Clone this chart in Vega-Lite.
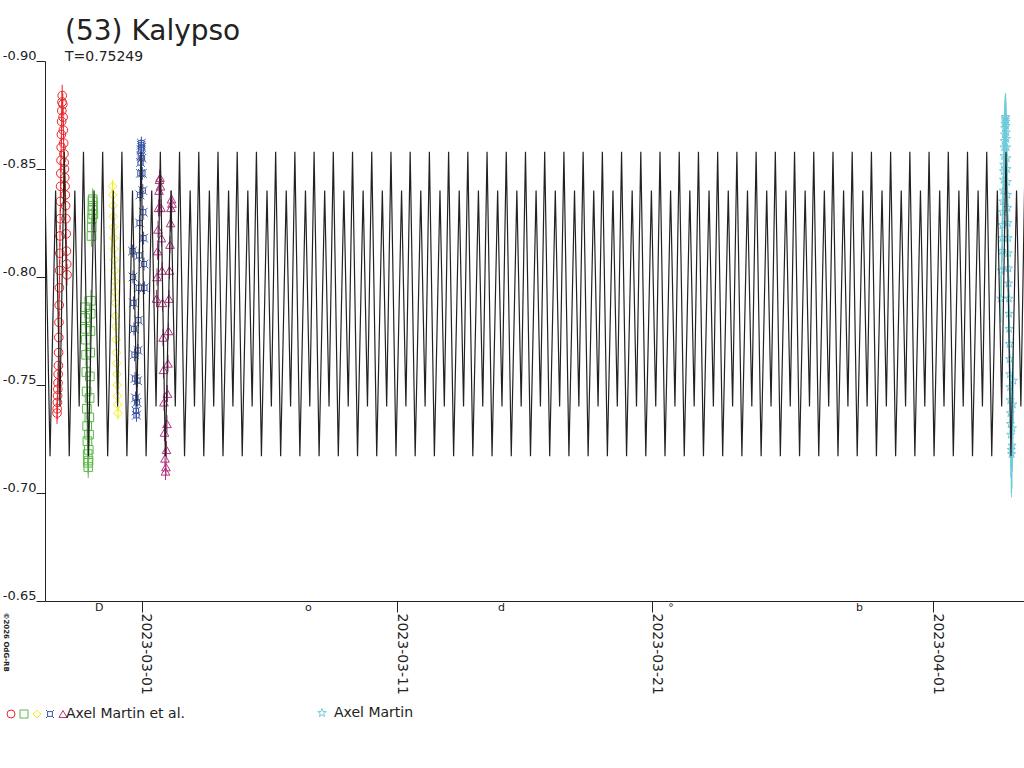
{
  "$schema": "https://vega.github.io/schema/vega-lite/v6.json",
  "width": 979,
  "height": 540,
  "autosize": "none",
  "padding": {"left": 45, "top": 61, "right": 0, "bottom": 167},
  "background": "white",
  "title": {
    "text": "(53) Kalypso",
    "subtitle": "T=0.75249",
    "anchor": "start",
    "frame": "group",
    "dx": 20,
    "offset": -15,
    "font": "DejaVu Sans",
    "subtitleFont": "DejaVu Sans",
    "fontSize": 28,
    "subtitleFontSize": 14,
    "fontWeight": "normal",
    "color": "#222",
    "subtitleColor": "#222",
    "subtitlePadding": 4
  },
  "datasets": {
    "model": [
      {"mjd": 60000.214, "mag": -0.840},
      {"mjd": 60000.411, "mag": -0.717}, {"mjd": 60000.630, "mag": -0.840}, {"mjd": 60000.800, "mag": -0.740},
      {"mjd": 60000.967, "mag": -0.858}, {"mjd": 60001.163, "mag": -0.717}, {"mjd": 60001.382, "mag": -0.840}, {"mjd": 60001.552, "mag": -0.740},
      {"mjd": 60001.720, "mag": -0.858}, {"mjd": 60001.916, "mag": -0.717}, {"mjd": 60002.135, "mag": -0.840}, {"mjd": 60002.305, "mag": -0.740},
      {"mjd": 60002.472, "mag": -0.858}, {"mjd": 60002.668, "mag": -0.717}, {"mjd": 60002.887, "mag": -0.840}, {"mjd": 60003.057, "mag": -0.740},
      {"mjd": 60003.225, "mag": -0.858}, {"mjd": 60003.421, "mag": -0.717}, {"mjd": 60003.640, "mag": -0.840}, {"mjd": 60003.810, "mag": -0.740},
      {"mjd": 60003.977, "mag": -0.858}, {"mjd": 60004.173, "mag": -0.717}, {"mjd": 60004.392, "mag": -0.840}, {"mjd": 60004.562, "mag": -0.740},
      {"mjd": 60004.730, "mag": -0.858}, {"mjd": 60004.926, "mag": -0.717}, {"mjd": 60005.145, "mag": -0.840}, {"mjd": 60005.315, "mag": -0.740},
      {"mjd": 60005.482, "mag": -0.858}, {"mjd": 60005.678, "mag": -0.717}, {"mjd": 60005.897, "mag": -0.840}, {"mjd": 60006.067, "mag": -0.740},
      {"mjd": 60006.235, "mag": -0.858}, {"mjd": 60006.431, "mag": -0.717}, {"mjd": 60006.650, "mag": -0.840}, {"mjd": 60006.820, "mag": -0.740},
      {"mjd": 60006.987, "mag": -0.858}, {"mjd": 60007.183, "mag": -0.717}, {"mjd": 60007.402, "mag": -0.840}, {"mjd": 60007.572, "mag": -0.740},
      {"mjd": 60007.740, "mag": -0.858}, {"mjd": 60007.936, "mag": -0.717}, {"mjd": 60008.155, "mag": -0.840}, {"mjd": 60008.325, "mag": -0.740},
      {"mjd": 60008.492, "mag": -0.858}, {"mjd": 60008.688, "mag": -0.717}, {"mjd": 60008.907, "mag": -0.840}, {"mjd": 60009.077, "mag": -0.740},
      {"mjd": 60009.245, "mag": -0.858}, {"mjd": 60009.441, "mag": -0.717}, {"mjd": 60009.660, "mag": -0.840}, {"mjd": 60009.830, "mag": -0.740},
      {"mjd": 60009.997, "mag": -0.858}, {"mjd": 60010.193, "mag": -0.717}, {"mjd": 60010.412, "mag": -0.840}, {"mjd": 60010.582, "mag": -0.740},
      {"mjd": 60010.750, "mag": -0.858}, {"mjd": 60010.946, "mag": -0.717}, {"mjd": 60011.165, "mag": -0.840}, {"mjd": 60011.335, "mag": -0.740},
      {"mjd": 60011.502, "mag": -0.858}, {"mjd": 60011.698, "mag": -0.717}, {"mjd": 60011.917, "mag": -0.840}, {"mjd": 60012.087, "mag": -0.740},
      {"mjd": 60012.255, "mag": -0.858}, {"mjd": 60012.451, "mag": -0.717}, {"mjd": 60012.670, "mag": -0.840}, {"mjd": 60012.840, "mag": -0.740},
      {"mjd": 60013.007, "mag": -0.858}, {"mjd": 60013.203, "mag": -0.717}, {"mjd": 60013.422, "mag": -0.840}, {"mjd": 60013.592, "mag": -0.740},
      {"mjd": 60013.760, "mag": -0.858}, {"mjd": 60013.956, "mag": -0.717}, {"mjd": 60014.175, "mag": -0.840}, {"mjd": 60014.345, "mag": -0.740},
      {"mjd": 60014.512, "mag": -0.858}, {"mjd": 60014.708, "mag": -0.717}, {"mjd": 60014.927, "mag": -0.840}, {"mjd": 60015.097, "mag": -0.740},
      {"mjd": 60015.264, "mag": -0.858}, {"mjd": 60015.460, "mag": -0.717}, {"mjd": 60015.679, "mag": -0.840}, {"mjd": 60015.849, "mag": -0.740},
      {"mjd": 60016.017, "mag": -0.858}, {"mjd": 60016.213, "mag": -0.717}, {"mjd": 60016.432, "mag": -0.840}, {"mjd": 60016.602, "mag": -0.740},
      {"mjd": 60016.769, "mag": -0.858}, {"mjd": 60016.965, "mag": -0.717}, {"mjd": 60017.184, "mag": -0.840}, {"mjd": 60017.354, "mag": -0.740},
      {"mjd": 60017.522, "mag": -0.858}, {"mjd": 60017.718, "mag": -0.717}, {"mjd": 60017.937, "mag": -0.840}, {"mjd": 60018.107, "mag": -0.740},
      {"mjd": 60018.274, "mag": -0.858}, {"mjd": 60018.470, "mag": -0.717}, {"mjd": 60018.689, "mag": -0.840}, {"mjd": 60018.859, "mag": -0.740},
      {"mjd": 60019.027, "mag": -0.858}, {"mjd": 60019.223, "mag": -0.717}, {"mjd": 60019.442, "mag": -0.840}, {"mjd": 60019.612, "mag": -0.740},
      {"mjd": 60019.779, "mag": -0.858}, {"mjd": 60019.975, "mag": -0.717}, {"mjd": 60020.194, "mag": -0.840}, {"mjd": 60020.364, "mag": -0.740},
      {"mjd": 60020.532, "mag": -0.858}, {"mjd": 60020.728, "mag": -0.717}, {"mjd": 60020.947, "mag": -0.840}, {"mjd": 60021.117, "mag": -0.740},
      {"mjd": 60021.284, "mag": -0.858}, {"mjd": 60021.480, "mag": -0.717}, {"mjd": 60021.699, "mag": -0.840}, {"mjd": 60021.869, "mag": -0.740},
      {"mjd": 60022.037, "mag": -0.858}, {"mjd": 60022.233, "mag": -0.717}, {"mjd": 60022.452, "mag": -0.840}, {"mjd": 60022.622, "mag": -0.740},
      {"mjd": 60022.789, "mag": -0.858}, {"mjd": 60022.985, "mag": -0.717}, {"mjd": 60023.204, "mag": -0.840}, {"mjd": 60023.374, "mag": -0.740},
      {"mjd": 60023.542, "mag": -0.858}, {"mjd": 60023.738, "mag": -0.717}, {"mjd": 60023.957, "mag": -0.840}, {"mjd": 60024.127, "mag": -0.740},
      {"mjd": 60024.294, "mag": -0.858}, {"mjd": 60024.490, "mag": -0.717}, {"mjd": 60024.709, "mag": -0.840}, {"mjd": 60024.879, "mag": -0.740},
      {"mjd": 60025.047, "mag": -0.858}, {"mjd": 60025.243, "mag": -0.717}, {"mjd": 60025.462, "mag": -0.840}, {"mjd": 60025.632, "mag": -0.740},
      {"mjd": 60025.799, "mag": -0.858}, {"mjd": 60025.995, "mag": -0.717}, {"mjd": 60026.214, "mag": -0.840}, {"mjd": 60026.384, "mag": -0.740},
      {"mjd": 60026.552, "mag": -0.858}, {"mjd": 60026.748, "mag": -0.717}, {"mjd": 60026.967, "mag": -0.840}, {"mjd": 60027.137, "mag": -0.740},
      {"mjd": 60027.304, "mag": -0.858}, {"mjd": 60027.500, "mag": -0.717}, {"mjd": 60027.719, "mag": -0.840}, {"mjd": 60027.889, "mag": -0.740},
      {"mjd": 60028.057, "mag": -0.858}, {"mjd": 60028.253, "mag": -0.717}, {"mjd": 60028.472, "mag": -0.840}, {"mjd": 60028.642, "mag": -0.740},
      {"mjd": 60028.809, "mag": -0.858}, {"mjd": 60029.005, "mag": -0.717}, {"mjd": 60029.224, "mag": -0.840}, {"mjd": 60029.394, "mag": -0.740},
      {"mjd": 60029.562, "mag": -0.858}, {"mjd": 60029.758, "mag": -0.717}, {"mjd": 60029.977, "mag": -0.840}, {"mjd": 60030.147, "mag": -0.740},
      {"mjd": 60030.314, "mag": -0.858}, {"mjd": 60030.510, "mag": -0.717}, {"mjd": 60030.729, "mag": -0.840}, {"mjd": 60030.899, "mag": -0.740},
      {"mjd": 60031.067, "mag": -0.858}, {"mjd": 60031.263, "mag": -0.717}, {"mjd": 60031.482, "mag": -0.840}, {"mjd": 60031.652, "mag": -0.740},
      {"mjd": 60031.819, "mag": -0.858}, {"mjd": 60032.015, "mag": -0.717}, {"mjd": 60032.234, "mag": -0.840}, {"mjd": 60032.404, "mag": -0.740},
      {"mjd": 60032.572, "mag": -0.858}, {"mjd": 60032.768, "mag": -0.717}, {"mjd": 60032.987, "mag": -0.840}, {"mjd": 60033.157, "mag": -0.740},
      {"mjd": 60033.324, "mag": -0.858}, {"mjd": 60033.520, "mag": -0.717}, {"mjd": 60033.739, "mag": -0.840}, {"mjd": 60033.909, "mag": -0.740},
      {"mjd": 60034.077, "mag": -0.858}, {"mjd": 60034.273, "mag": -0.717}, {"mjd": 60034.492, "mag": -0.840}, {"mjd": 60034.662, "mag": -0.740},
      {"mjd": 60034.829, "mag": -0.858}, {"mjd": 60035.025, "mag": -0.717}, {"mjd": 60035.244, "mag": -0.840}, {"mjd": 60035.414, "mag": -0.740},
      {"mjd": 60035.582, "mag": -0.858}, {"mjd": 60035.778, "mag": -0.717}, {"mjd": 60035.997, "mag": -0.840}, {"mjd": 60036.167, "mag": -0.740},
      {"mjd": 60036.334, "mag": -0.858}, {"mjd": 60036.530, "mag": -0.717}, {"mjd": 60036.749, "mag": -0.840}, {"mjd": 60036.919, "mag": -0.740},
      {"mjd": 60037.087, "mag": -0.858}, {"mjd": 60037.283, "mag": -0.717}, {"mjd": 60037.502, "mag": -0.840}, {"mjd": 60037.672, "mag": -0.740},
      {"mjd": 60037.839, "mag": -0.858}, {"mjd": 60038.035, "mag": -0.717}, {"mjd": 60038.254, "mag": -0.840}, {"mjd": 60038.424, "mag": -0.740},
      {"mjd": 60038.592, "mag": -0.858}
    ],
    "obs": [
      {"sess": "1", "mjd": 60000.684, "mag": -0.737, "err": 0.005},
      {"sess": "1", "mjd": 60000.692, "mag": -0.739, "err": 0.005},
      {"sess": "1", "mjd": 60000.700, "mag": -0.742, "err": 0.005},
      {"sess": "1", "mjd": 60000.707, "mag": -0.745, "err": 0.005},
      {"sess": "1", "mjd": 60000.715, "mag": -0.748, "err": 0.005},
      {"sess": "1", "mjd": 60000.723, "mag": -0.751, "err": 0.005},
      {"sess": "1", "mjd": 60000.731, "mag": -0.755, "err": 0.005},
      {"sess": "1", "mjd": 60000.739, "mag": -0.759, "err": 0.005},
      {"sess": "1", "mjd": 60000.747, "mag": -0.765, "err": 0.005},
      {"sess": "1", "mjd": 60000.754, "mag": -0.772, "err": 0.005},
      {"sess": "1", "mjd": 60000.762, "mag": -0.779, "err": 0.005},
      {"sess": "1", "mjd": 60000.770, "mag": -0.787, "err": 0.005},
      {"sess": "1", "mjd": 60000.778, "mag": -0.795, "err": 0.005},
      {"sess": "1", "mjd": 60000.786, "mag": -0.803, "err": 0.005},
      {"sess": "1", "mjd": 60000.794, "mag": -0.811, "err": 0.005},
      {"sess": "1", "mjd": 60000.801, "mag": -0.819, "err": 0.005},
      {"sess": "1", "mjd": 60000.809, "mag": -0.827, "err": 0.005},
      {"sess": "1", "mjd": 60000.817, "mag": -0.835, "err": 0.005},
      {"sess": "1", "mjd": 60000.825, "mag": -0.842, "err": 0.005},
      {"sess": "1", "mjd": 60000.833, "mag": -0.848, "err": 0.005},
      {"sess": "1", "mjd": 60000.841, "mag": -0.854, "err": 0.005},
      {"sess": "1", "mjd": 60000.848, "mag": -0.860, "err": 0.005},
      {"sess": "1", "mjd": 60000.856, "mag": -0.866, "err": 0.005},
      {"sess": "1", "mjd": 60000.864, "mag": -0.872, "err": 0.005},
      {"sess": "1", "mjd": 60000.872, "mag": -0.877, "err": 0.005},
      {"sess": "1", "mjd": 60000.880, "mag": -0.881, "err": 0.005},
      {"sess": "1", "mjd": 60000.888, "mag": -0.884, "err": 0.005},
      {"sess": "1", "mjd": 60000.911, "mag": -0.880, "err": 0.005},
      {"sess": "1", "mjd": 60000.922, "mag": -0.874, "err": 0.005},
      {"sess": "1", "mjd": 60000.933, "mag": -0.868, "err": 0.005},
      {"sess": "1", "mjd": 60000.944, "mag": -0.862, "err": 0.005},
      {"sess": "1", "mjd": 60000.955, "mag": -0.857, "err": 0.005},
      {"sess": "1", "mjd": 60000.966, "mag": -0.853, "err": 0.005},
      {"sess": "1", "mjd": 60000.977, "mag": -0.850, "err": 0.005},
      {"sess": "1", "mjd": 60000.988, "mag": -0.846, "err": 0.005},
      {"sess": "1", "mjd": 60000.999, "mag": -0.842, "err": 0.005},
      {"sess": "1", "mjd": 60001.010, "mag": -0.838, "err": 0.005},
      {"sess": "1", "mjd": 60001.021, "mag": -0.833, "err": 0.005},
      {"sess": "1", "mjd": 60001.032, "mag": -0.827, "err": 0.005},
      {"sess": "1", "mjd": 60001.043, "mag": -0.820, "err": 0.005},
      {"sess": "1", "mjd": 60001.054, "mag": -0.812, "err": 0.005},
      {"sess": "1", "mjd": 60001.065, "mag": -0.806, "err": 0.005},
      {"sess": "1", "mjd": 60001.076, "mag": -0.801, "err": 0.005},
      {"sess": "2", "mjd": 60001.780, "mag": -0.786, "err": 0.005},
      {"sess": "2", "mjd": 60001.791, "mag": -0.781, "err": 0.005},
      {"sess": "2", "mjd": 60001.801, "mag": -0.776, "err": 0.005},
      {"sess": "2", "mjd": 60001.812, "mag": -0.771, "err": 0.005},
      {"sess": "2", "mjd": 60001.822, "mag": -0.764, "err": 0.005},
      {"sess": "2", "mjd": 60001.833, "mag": -0.756, "err": 0.005},
      {"sess": "2", "mjd": 60001.844, "mag": -0.747, "err": 0.005},
      {"sess": "2", "mjd": 60001.854, "mag": -0.739, "err": 0.005},
      {"sess": "2", "mjd": 60001.865, "mag": -0.731, "err": 0.005},
      {"sess": "2", "mjd": 60001.875, "mag": -0.724, "err": 0.005},
      {"sess": "2", "mjd": 60001.886, "mag": -0.718, "err": 0.005},
      {"sess": "2", "mjd": 60001.897, "mag": -0.714, "err": 0.005},
      {"sess": "2", "mjd": 60001.907, "mag": -0.712, "err": 0.005},
      {"sess": "2", "mjd": 60001.918, "mag": -0.715, "err": 0.005},
      {"sess": "2", "mjd": 60001.928, "mag": -0.720, "err": 0.005},
      {"sess": "2", "mjd": 60001.939, "mag": -0.727, "err": 0.005},
      {"sess": "2", "mjd": 60001.950, "mag": -0.735, "err": 0.005},
      {"sess": "2", "mjd": 60001.960, "mag": -0.744, "err": 0.005},
      {"sess": "2", "mjd": 60001.971, "mag": -0.754, "err": 0.005},
      {"sess": "2", "mjd": 60001.981, "mag": -0.765, "err": 0.005},
      {"sess": "2", "mjd": 60001.992, "mag": -0.775, "err": 0.005},
      {"sess": "2", "mjd": 60002.003, "mag": -0.783, "err": 0.005},
      {"sess": "2", "mjd": 60002.013, "mag": -0.789, "err": 0.005},
      {"sess": "2", "mjd": 60002.034, "mag": -0.819, "err": 0.005},
      {"sess": "2", "mjd": 60002.044, "mag": -0.823, "err": 0.005},
      {"sess": "2", "mjd": 60002.054, "mag": -0.827, "err": 0.005},
      {"sess": "2", "mjd": 60002.064, "mag": -0.831, "err": 0.005},
      {"sess": "2", "mjd": 60002.074, "mag": -0.835, "err": 0.005},
      {"sess": "2", "mjd": 60002.084, "mag": -0.836, "err": 0.005},
      {"sess": "2", "mjd": 60002.094, "mag": -0.833, "err": 0.005},
      {"sess": "2", "mjd": 60002.104, "mag": -0.829, "err": 0.005},
      {"sess": "3", "mjd": 60002.857, "mag": -0.842, "err": 0.003},
      {"sess": "3", "mjd": 60002.867, "mag": -0.838, "err": 0.003},
      {"sess": "3", "mjd": 60002.877, "mag": -0.833, "err": 0.003},
      {"sess": "3", "mjd": 60002.888, "mag": -0.828, "err": 0.003},
      {"sess": "3", "mjd": 60002.898, "mag": -0.823, "err": 0.003},
      {"sess": "3", "mjd": 60002.908, "mag": -0.818, "err": 0.003},
      {"sess": "3", "mjd": 60002.918, "mag": -0.813, "err": 0.003},
      {"sess": "3", "mjd": 60002.928, "mag": -0.808, "err": 0.003},
      {"sess": "3", "mjd": 60002.939, "mag": -0.803, "err": 0.003},
      {"sess": "3", "mjd": 60002.949, "mag": -0.798, "err": 0.003},
      {"sess": "3", "mjd": 60002.959, "mag": -0.793, "err": 0.003},
      {"sess": "3", "mjd": 60002.969, "mag": -0.788, "err": 0.003},
      {"sess": "3", "mjd": 60002.979, "mag": -0.782, "err": 0.003},
      {"sess": "3", "mjd": 60002.990, "mag": -0.777, "err": 0.003},
      {"sess": "3", "mjd": 60003.000, "mag": -0.771, "err": 0.003},
      {"sess": "3", "mjd": 60003.010, "mag": -0.765, "err": 0.003},
      {"sess": "3", "mjd": 60003.020, "mag": -0.760, "err": 0.003},
      {"sess": "3", "mjd": 60003.031, "mag": -0.755, "err": 0.003},
      {"sess": "3", "mjd": 60003.041, "mag": -0.750, "err": 0.003},
      {"sess": "3", "mjd": 60003.051, "mag": -0.745, "err": 0.003},
      {"sess": "3", "mjd": 60003.061, "mag": -0.741, "err": 0.003},
      {"sess": "3", "mjd": 60003.072, "mag": -0.737, "err": 0.003},
      {"sess": "4", "mjd": 60003.640, "mag": -0.812, "err": 0.003},
      {"sess": "4", "mjd": 60003.659, "mag": -0.800, "err": 0.003},
      {"sess": "4", "mjd": 60003.679, "mag": -0.788, "err": 0.003},
      {"sess": "4", "mjd": 60003.699, "mag": -0.776, "err": 0.003},
      {"sess": "4", "mjd": 60003.718, "mag": -0.764, "err": 0.003},
      {"sess": "4", "mjd": 60003.738, "mag": -0.753, "err": 0.003},
      {"sess": "4", "mjd": 60003.757, "mag": -0.744, "err": 0.003},
      {"sess": "4", "mjd": 60003.777, "mag": -0.738, "err": 0.003},
      {"sess": "4", "mjd": 60003.796, "mag": -0.736, "err": 0.003},
      {"sess": "4", "mjd": 60003.816, "mag": -0.742, "err": 0.003},
      {"sess": "4", "mjd": 60003.836, "mag": -0.752, "err": 0.003},
      {"sess": "4", "mjd": 60003.855, "mag": -0.766, "err": 0.003},
      {"sess": "4", "mjd": 60003.871, "mag": -0.780, "err": 0.003},
      {"sess": "4", "mjd": 60003.886, "mag": -0.795, "err": 0.003},
      {"sess": "4", "mjd": 60003.902, "mag": -0.810, "err": 0.003},
      {"sess": "4", "mjd": 60003.918, "mag": -0.825, "err": 0.003},
      {"sess": "4", "mjd": 60003.933, "mag": -0.838, "err": 0.003},
      {"sess": "4", "mjd": 60003.949, "mag": -0.848, "err": 0.003},
      {"sess": "4", "mjd": 60003.957, "mag": -0.853, "err": 0.003},
      {"sess": "4", "mjd": 60003.965, "mag": -0.856, "err": 0.003},
      {"sess": "4", "mjd": 60003.973, "mag": -0.859, "err": 0.003},
      {"sess": "4", "mjd": 60003.980, "mag": -0.861, "err": 0.003},
      {"sess": "4", "mjd": 60003.988, "mag": -0.862, "err": 0.003},
      {"sess": "4", "mjd": 60003.996, "mag": -0.860, "err": 0.003},
      {"sess": "4", "mjd": 60004.012, "mag": -0.855, "err": 0.003},
      {"sess": "4", "mjd": 60004.027, "mag": -0.848, "err": 0.003},
      {"sess": "4", "mjd": 60004.043, "mag": -0.840, "err": 0.003},
      {"sess": "4", "mjd": 60004.059, "mag": -0.830, "err": 0.003},
      {"sess": "4", "mjd": 60004.074, "mag": -0.818, "err": 0.003},
      {"sess": "4", "mjd": 60004.090, "mag": -0.806, "err": 0.003},
      {"sess": "4", "mjd": 60004.106, "mag": -0.795, "err": 0.003},
      {"sess": "5", "mjd": 60004.580, "mag": -0.790, "err": 0.004},
      {"sess": "5", "mjd": 60004.599, "mag": -0.800, "err": 0.004},
      {"sess": "5", "mjd": 60004.619, "mag": -0.812, "err": 0.004},
      {"sess": "5", "mjd": 60004.638, "mag": -0.822, "err": 0.004},
      {"sess": "5", "mjd": 60004.658, "mag": -0.832, "err": 0.004},
      {"sess": "5", "mjd": 60004.678, "mag": -0.840, "err": 0.004},
      {"sess": "5", "mjd": 60004.697, "mag": -0.845, "err": 0.004},
      {"sess": "5", "mjd": 60004.717, "mag": -0.846, "err": 0.004},
      {"sess": "5", "mjd": 60004.736, "mag": -0.842, "err": 0.004},
      {"sess": "5", "mjd": 60004.756, "mag": -0.832, "err": 0.004},
      {"sess": "5", "mjd": 60004.775, "mag": -0.818, "err": 0.004},
      {"sess": "5", "mjd": 60004.795, "mag": -0.803, "err": 0.004},
      {"sess": "5", "mjd": 60004.815, "mag": -0.788, "err": 0.004},
      {"sess": "5", "mjd": 60004.834, "mag": -0.772, "err": 0.004},
      {"sess": "5", "mjd": 60004.854, "mag": -0.757, "err": 0.004},
      {"sess": "5", "mjd": 60004.873, "mag": -0.742, "err": 0.004},
      {"sess": "5", "mjd": 60004.893, "mag": -0.728, "err": 0.004},
      {"sess": "5", "mjd": 60004.912, "mag": -0.716, "err": 0.004},
      {"sess": "5", "mjd": 60004.932, "mag": -0.710, "err": 0.004},
      {"sess": "5", "mjd": 60004.951, "mag": -0.712, "err": 0.004},
      {"sess": "5", "mjd": 60004.971, "mag": -0.720, "err": 0.004},
      {"sess": "5", "mjd": 60004.991, "mag": -0.732, "err": 0.004},
      {"sess": "5", "mjd": 60005.010, "mag": -0.746, "err": 0.004},
      {"sess": "5", "mjd": 60005.030, "mag": -0.760, "err": 0.004},
      {"sess": "5", "mjd": 60005.049, "mag": -0.775, "err": 0.004},
      {"sess": "5", "mjd": 60005.069, "mag": -0.790, "err": 0.004},
      {"sess": "5", "mjd": 60005.088, "mag": -0.803, "err": 0.004},
      {"sess": "5", "mjd": 60005.108, "mag": -0.815, "err": 0.004},
      {"sess": "5", "mjd": 60005.128, "mag": -0.825, "err": 0.004},
      {"sess": "5", "mjd": 60005.147, "mag": -0.832, "err": 0.004},
      {"sess": "5", "mjd": 60005.167, "mag": -0.836, "err": 0.004},
      {"sess": "5", "mjd": 60005.186, "mag": -0.834, "err": 0.004},
      {"sess": "6", "mjd": 60037.640, "mag": -0.790, "err": 0.011},
      {"sess": "6", "mjd": 60037.662, "mag": -0.803, "err": 0.011},
      {"sess": "6", "mjd": 60037.684, "mag": -0.812, "err": 0.011},
      {"sess": "6", "mjd": 60037.694, "mag": -0.818, "err": 0.011},
      {"sess": "6", "mjd": 60037.704, "mag": -0.824, "err": 0.011},
      {"sess": "6", "mjd": 60037.714, "mag": -0.830, "err": 0.011},
      {"sess": "6", "mjd": 60037.724, "mag": -0.835, "err": 0.011},
      {"sess": "6", "mjd": 60037.733, "mag": -0.840, "err": 0.011},
      {"sess": "6", "mjd": 60037.743, "mag": -0.845, "err": 0.011},
      {"sess": "6", "mjd": 60037.749, "mag": -0.849, "err": 0.011},
      {"sess": "6", "mjd": 60037.755, "mag": -0.852, "err": 0.011},
      {"sess": "6", "mjd": 60037.763, "mag": -0.856, "err": 0.011},
      {"sess": "6", "mjd": 60037.770, "mag": -0.860, "err": 0.011},
      {"sess": "6", "mjd": 60037.778, "mag": -0.863, "err": 0.011},
      {"sess": "6", "mjd": 60037.786, "mag": -0.866, "err": 0.011},
      {"sess": "6", "mjd": 60037.794, "mag": -0.869, "err": 0.011},
      {"sess": "6", "mjd": 60037.802, "mag": -0.871, "err": 0.011},
      {"sess": "6", "mjd": 60037.810, "mag": -0.873, "err": 0.011},
      {"sess": "6", "mjd": 60037.817, "mag": -0.874, "err": 0.011},
      {"sess": "6", "mjd": 60037.825, "mag": -0.874, "err": 0.011},
      {"sess": "6", "mjd": 60037.833, "mag": -0.872, "err": 0.011},
      {"sess": "6", "mjd": 60037.841, "mag": -0.870, "err": 0.011},
      {"sess": "6", "mjd": 60037.849, "mag": -0.867, "err": 0.011},
      {"sess": "6", "mjd": 60037.857, "mag": -0.864, "err": 0.011},
      {"sess": "6", "mjd": 60037.864, "mag": -0.860, "err": 0.011},
      {"sess": "6", "mjd": 60037.872, "mag": -0.855, "err": 0.011},
      {"sess": "6", "mjd": 60037.880, "mag": -0.850, "err": 0.011},
      {"sess": "6", "mjd": 60037.888, "mag": -0.844, "err": 0.011},
      {"sess": "6", "mjd": 60037.896, "mag": -0.838, "err": 0.011},
      {"sess": "6", "mjd": 60037.904, "mag": -0.832, "err": 0.011},
      {"sess": "6", "mjd": 60037.912, "mag": -0.825, "err": 0.011},
      {"sess": "6", "mjd": 60037.919, "mag": -0.818, "err": 0.011},
      {"sess": "6", "mjd": 60037.927, "mag": -0.811, "err": 0.011},
      {"sess": "6", "mjd": 60037.935, "mag": -0.804, "err": 0.011},
      {"sess": "6", "mjd": 60037.943, "mag": -0.797, "err": 0.011},
      {"sess": "6", "mjd": 60037.951, "mag": -0.790, "err": 0.011},
      {"sess": "6", "mjd": 60037.959, "mag": -0.783, "err": 0.011},
      {"sess": "6", "mjd": 60037.966, "mag": -0.776, "err": 0.011},
      {"sess": "6", "mjd": 60037.974, "mag": -0.769, "err": 0.011},
      {"sess": "6", "mjd": 60037.982, "mag": -0.762, "err": 0.011},
      {"sess": "6", "mjd": 60037.990, "mag": -0.755, "err": 0.011},
      {"sess": "6", "mjd": 60037.998, "mag": -0.749, "err": 0.011},
      {"sess": "6", "mjd": 60038.006, "mag": -0.743, "err": 0.011},
      {"sess": "6", "mjd": 60038.013, "mag": -0.737, "err": 0.020},
      {"sess": "6", "mjd": 60038.021, "mag": -0.732, "err": 0.020},
      {"sess": "6", "mjd": 60038.029, "mag": -0.727, "err": 0.020},
      {"sess": "6", "mjd": 60038.045, "mag": -0.720, "err": 0.020},
      {"sess": "6", "mjd": 60038.060, "mag": -0.718, "err": 0.020},
      {"sess": "6", "mjd": 60038.076, "mag": -0.722, "err": 0.020},
      {"sess": "6", "mjd": 60038.092, "mag": -0.730, "err": 0.020},
      {"sess": "6", "mjd": 60038.110, "mag": -0.741, "err": 0.020},
      {"sess": "6", "mjd": 60038.128, "mag": -0.752, "err": 0.020}
    ],
    "moon": [
      {"mjd": 60002.338, "glyph": "D"},
      {"mjd": 60010.528, "glyph": "o"},
      {"mjd": 60018.089, "glyph": "d"},
      {"mjd": 60024.724, "glyph": "°"},
      {"mjd": 60032.106, "glyph": "b"}
    ]
  },
  "encoding": {
    "x": {
      "field": "mjd",
      "type": "quantitative",
      "scale": {"domain": [60000.214, 60038.546], "nice": false, "zero": false},
      "axis": {
        "title": null,
        "grid": false,
        "values": [60004, 60014, 60024, 60035],
        "labelExpr": "utcFormat((datum.value - 40587) * 86400000, '%Y-%m-%d')",
        "labelAngle": 90,
        "labelAlign": "left",
        "labelBaseline": "alphabetic",
        "labelPadding": 1,
        "labelFlush": false,
        "labelOverlap": false,
        "tickSize": 11,
        "labelFontSize": 14
      }
    }
  },
  "layer": [
    {
      "data": {"name": "obs"},
      "mark": {"type": "errorbar", "ticks": false},
      "encoding": {
        "y": {
          "field": "mag",
          "type": "quantitative",
          "scale": {"domain": [-0.9, -0.65], "reverse": true, "nice": false, "zero": false},
          "axis": {
            "title": "©2026 OdG-RB",
            "titleAngle": 90,
            "titleX": -40,
            "titleY": 551,
            "titleAlign": "left",
            "titleBaseline": "middle",
            "titleFontSize": 7,
            "titleFontWeight": "bold",
            "grid": false,
            "values": [-0.9, -0.85, -0.8, -0.75, -0.7, -0.65],
            "labelExpr": "'-' + format(abs(datum.value), '.2f')",
            "labelAlign": "right",
            "labelBaseline": "alphabetic",
            "labelOffset": -2,
            "labelPadding": 0,
            "labelFlush": false,
            "tickSize": 9,
            "labelFontSize": 13
          }
        },
        "yError": {"field": "err"},
        "color": {
          "field": "sess",
          "type": "nominal",
          "scale": {
            "domain": ["1", "2", "3", "4", "5", "6"],
            "range": ["#e8262b", "#5db84a", "#f2ee0a", "#3a56a5", "#b3337f", "#6ecbdb"]
          },
          "legend": null
        }
      }
    },
    {
      "data": {"name": "obs"},
      "transform": [{"filter": "datum.sess != '6'"}],
      "mark": {"type": "point", "filled": false, "strokeWidth": 1, "size": 75, "opacity": 1},
      "encoding": {
        "y": {"field": "mag", "type": "quantitative", "title": "©2026 OdG-RB"},
        "color": {
          "field": "sess",
          "type": "nominal",
          "scale": {
            "domain": ["1", "2", "3", "4", "5"],
            "range": ["#e8262b", "#5db84a", "#f2ee0a", "#3a56a5", "#b3337f"]
          },
          "legend": {
            "title": null,
            "orient": "none",
            "legendX": -41,
            "legendY": 646,
            "direction": "horizontal",
            "columns": 5,
            "columnPadding": 0,
            "labelOffset": -4,
            "symbolSize": 64,
            "labelExpr": "datum.value == '5' ? '\u2007\u2009Axel Martin et al.' : ''"
          }
        },
        "shape": {
          "field": "sess",
          "type": "nominal",
          "scale": {
            "domain": ["1", "2", "3", "4", "5"],
            "range": [
              "circle",
              "square",
              "diamond",
              "M-0.6,-0.6H0.6V0.6H-0.6Z M-1,-1L-0.6,-0.6 M1,-1L0.6,-0.6 M1,1L0.6,0.6 M-1,1L-0.6,0.6",
              "triangle-up"
            ]
          },
          "legend": {
            "title": null,
            "orient": "none",
            "legendX": -41,
            "legendY": 646,
            "direction": "horizontal",
            "columns": 5,
            "columnPadding": 0,
            "labelOffset": -4,
            "symbolSize": 64,
            "labelExpr": "datum.value == '5' ? '\u2007\u2009Axel Martin et al.' : ''"
          }
        }
      }
    },
    {
      "data": {"name": "obs"},
      "transform": [{"filter": "datum.sess == '6'"}],
      "mark": {"type": "point", "filled": false, "strokeWidth": 1, "size": 75, "opacity": 1},
      "encoding": {
        "y": {"field": "mag", "type": "quantitative", "title": "©2026 OdG-RB"},
        "color": {
          "field": "sess",
          "type": "nominal",
          "scale": {"domain": ["6"], "range": ["#6ecbdb"]},
          "legend": {
            "title": null,
            "orient": "none",
            "legendX": 270,
            "legendY": 645,
            "labelOffset": 5,
            "symbolSize": 80,
            "labelExpr": "'Axel Martin'"
          }
        },
        "shape": {
          "field": "sess",
          "type": "nominal",
          "scale": {
            "domain": ["6"],
            "range": ["M0,-1L0.235,-0.324L0.951,-0.309L0.38,0.124L0.588,0.809L0,0.4L-0.588,0.809L-0.38,0.124L-0.951,-0.309L-0.235,-0.324Z"]
          },
          "legend": {
            "title": null,
            "orient": "none",
            "legendX": 270,
            "legendY": 645,
            "labelOffset": 5,
            "symbolSize": 80,
            "labelExpr": "'Axel Martin'"
          }
        }
      }
    },
    {
      "data": {"name": "model"},
      "mark": {"type": "line", "color": "#222", "strokeWidth": 1.2, "clip": true},
      "encoding": {
        "y": {"field": "mag", "type": "quantitative", "title": "©2026 OdG-RB"}
      }
    },
    {
      "data": {"name": "moon"},
      "mark": {"type": "text", "fontSize": 11, "baseline": "middle", "dy": 7, "color": "#222", "font": "DejaVu Sans"},
      "encoding": {
        "y": {"datum": -0.65, "type": "quantitative", "title": "©2026 OdG-RB"},
        "text": {"field": "glyph", "type": "nominal"}
      }
    }
  ],
  "resolve": {"scale": {"color": "independent", "shape": "independent"}},
  "config": {
    "font": "DejaVu Sans",
    "view": {"stroke": null},
    "axis": {
      "domainColor": "#222",
      "tickColor": "#222",
      "labelColor": "#222",
      "titleColor": "#222",
      "labelFont": "DejaVu Sans",
      "titleFont": "DejaVu Sans"
    },
    "legend": {
      "labelFont": "DejaVu Sans",
      "labelFontSize": 14,
      "labelColor": "#222",
      "symbolStrokeWidth": 1,
      "labelLimit": 300
    }
  }
}
